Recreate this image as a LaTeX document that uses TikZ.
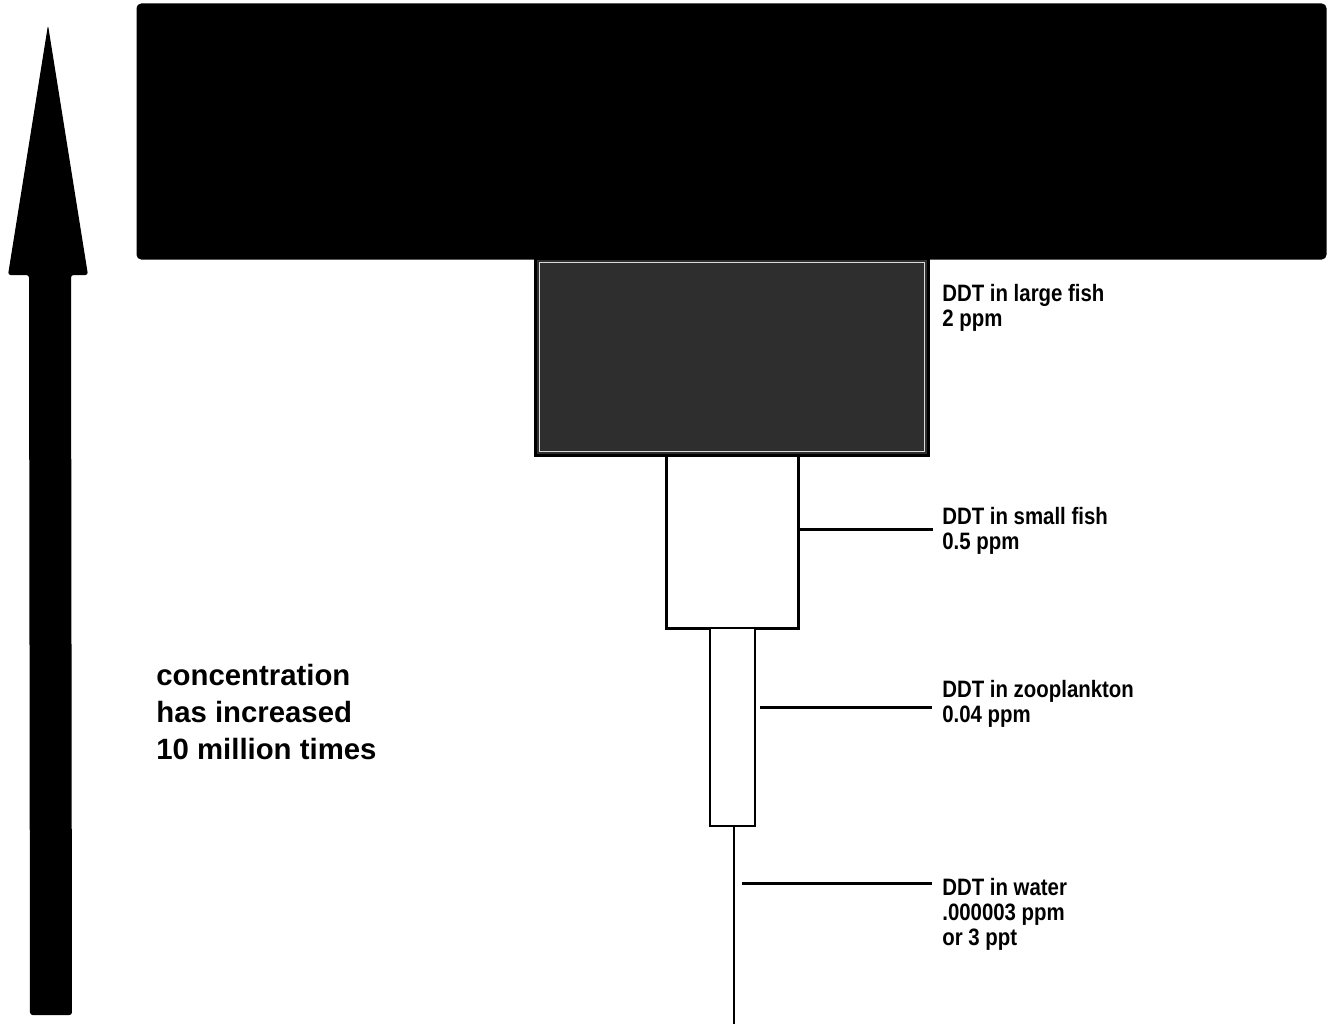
\documentclass[tikz,border=0pt]{standalone}
\usepackage{fontspec}
\setmainfont{Liberation Sans}
\newfontfamily\lblfont[FakeStretch=0.86]{Liberation Sans Bold}
\newfontfamily\bigfont{Liberation Sans Bold}
\usetikzlibrary{calc}
\tikzset{
  tier/.style={draw=black, line width=3*0.02cm, inner sep=0pt, outer sep=0pt},
  leader/.style={draw=black, line width=3*0.02cm},
  lbl/.style={anchor=north west, inner sep=0pt, align=left,
    font=\lblfont\fontsize{13.5pt}{14.2pt}\selectfont},
  bigtext/.style={anchor=north west, inner sep=0pt, align=left,
    font=\bigfont\fontsize{16.7pt}{21pt}\selectfont},
}
\begin{document}
\begin{tikzpicture}[x=0.02cm,y=-0.02cm]
\useasboundingbox (0,0) rectangle (1327,1024);
\fill[white] (0,0) rectangle (1327,1024);

% big arrow
\fill[black, rounded corners=1.5pt] (48,25) -- (88,275) -- (71,275) -- (72,1015)
  -- (30,1015) -- (29,275) -- (8,275) -- cycle;

% tiers
\node[tier, fill=black, rounded corners=2pt, minimum width=1187*0.02cm, minimum height=253*0.02cm]
  (top) at (731.5,131.5) {};
\node[tier, fill=black!82, minimum width=393*0.02cm, minimum height=197*0.02cm]
  (large) at (731.5,356.5) {};
\draw[white!85!black, line width=1*0.02cm] ($(large.south west)+(4,-4)$) rectangle ($(large.north east)+(-4,4)$);
\node[tier, fill=white, minimum width=132*0.02cm, minimum height=173*0.02cm]
  (small) at (732,541.5) {};
\node[tier, fill=white, line width=2.5*0.02cm, minimum width=45*0.02cm, minimum height=198*0.02cm]
  (zoo) at (732.5,727) {};
\coordinate (wEnd) at (734,1024);
\draw[black, line width=2*0.02cm] (zoo.south -| wEnd) -- (wEnd);

% leaders
\coordinate (sfEnd) at (933,529);
\draw[leader] (small.east |- sfEnd) -- (sfEnd);
\coordinate (zpStart) at (760,707);
\coordinate (zpEnd) at (932,707);
\draw[leader] (zpStart) -- (zpEnd);
\coordinate (wtStart) at (742,883);
\coordinate (wtEnd) at (932,883);
\draw[leader] (wtStart) -- (wtEnd);

% labels
\node[lbl] (Llarge) at (942,284) {DDT in large fish\\2 ppm};
\node[lbl] (Lsmall) at (942,507) {DDT in small fish\\0.5 ppm};
\node[lbl] (Lzoo) at (942,680) {DDT in zooplankton\\0.04 ppm};
\node[lbl] (Lwater) at (942,878) {DDT in water\\.000003 ppm\\or 3 ppt};

\node[bigtext] (conc) at (156,664) {concentration\\has increased\\10 million times};
\end{tikzpicture}
\end{document}
